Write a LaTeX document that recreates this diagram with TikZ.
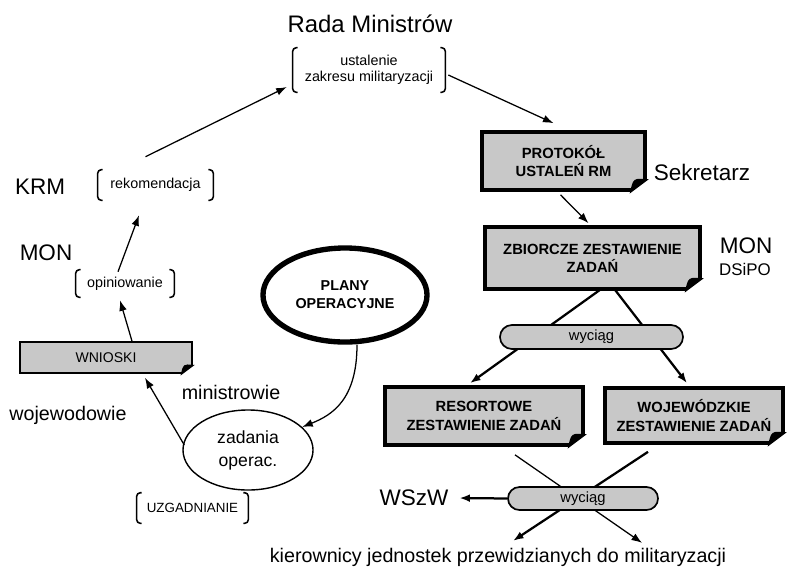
\documentclass[tikz,border=0pt]{standalone}
\usepackage{fontspec}
\setmainfont{Liberation Sans}
\usetikzlibrary{shapes.geometric,shapes.misc,arrows.meta,calc,backgrounds}
\definecolor{boxgray}{RGB}{200,200,200}
\tikzset{
  lbl/.style={font=\fontsize{16}{18}\selectfont},
  doc/.style={draw, line width=2.6pt, fill=boxgray, align=center, inner sep=0pt,
    font=\bfseries\fontsize{10.5}{13}\selectfont},
  brk/.style={align=center, inner sep=0pt, font=\fontsize{10.2}{11.4}\selectfont},
  pill/.style={rounded rectangle, draw, line width=1.2pt, fill=boxgray, inner sep=0pt,
    font=\fontsize{10.5}{12}\selectfont},
  arr/.style={-{Latex[length=7.5pt,width=5.5pt]}, line width=0.9pt},
  thickarr/.style={-{Latex[length=7.5pt,width=5.5pt]}, line width=1.6pt},
}
\begin{document}
\begin{tikzpicture}[x=0.025cm,y=-0.025cm]
\useasboundingbox (0,0) rectangle (788,568);

% gora
\node[lbl, font=\fontsize{17}{19}\selectfont] (rada) at (370,24) {Rada Ministrów};
\node[brk, minimum width=3.8cm, minimum height=1.1cm] (ustal) at (369,70) {ustalenie\\zakresu militaryzacji};

% prawa strona
\node[doc, minimum width=4.075cm, minimum height=1.45cm] (prot) at (563.5,161) {PROTOKÓŁ\\USTALEŃ RM};
\node[lbl] (sekr) at (702,172) {Sekretarz};
\node[doc, minimum width=5.375cm, minimum height=1.55cm] (zbior) at (592.5,258) {ZBIORCZE ZESTAWIENIE\\ZADAŃ};
\node[lbl] (mon2) at (746,246) {MON};
\node[font=\fontsize{12}{14}\selectfont] (dsipo) at (745,269) {DSiPO};
\node[pill, minimum width=4.575cm, minimum height=0.6cm] (wyc1) at (591.5,337) {wyciąg};
\node[doc, minimum width=4.95cm, minimum height=1.45cm] (resort) at (484,416) {RESORTOWE\\ZESTAWIENIE ZADAŃ};
\node[doc, minimum width=4.45cm, minimum height=1.375cm] (woj) at (694,415.5) {WOJEWÓDZKIE\\ZESTAWIENIE ZADAŃ};
\node[pill, minimum width=3.75cm, minimum height=0.575cm] (wyc2) at (583,498.5) {wyciąg};
\node[lbl] (wszw) at (414,498) {WSzW};
\node[font=\fontsize{14}{16}\selectfont] (kier) at (498,557) {kierownicy jednostek przewidzianych do militaryzacji};

% lewa strona
\node[lbl] (krm) at (40,187) {KRM};
\node[brk, minimum width=2.875cm, minimum height=0.75cm] (rekom) at (155.5,185) {rekomendacja};
\node[lbl] (mon1) at (46,253) {MON};
\node[brk, minimum width=2.45cm, minimum height=0.675cm] (opin) at (125,283.5) {opiniowanie};
\node[draw, line width=1.2pt, fill=boxgray, minimum width=4.3cm, minimum height=0.775cm,
  font=\fontsize{10}{12}\selectfont] (wnioski) at (106,357.5) {WNIOSKI};
\node[font=\fontsize{14}{16}\selectfont] (minis) at (231,392) {ministrowie};
\node[font=\fontsize{14}{16}\selectfont] (wojew) at (68,415) {wojewodowie};
\node[ellipse, draw, line width=1pt, minimum width=3.25cm, minimum height=2cm, align=center,
  font=\fontsize{12.5}{16.4}\selectfont] (zad) at (248,450) {zadania\\operac.};
\node[brk, font=\fontsize{9.5}{11}\selectfont, minimum width=2.775cm, minimum height=0.75cm] (uzg) at (192.5,508) {UZGADNIANIE};
\node[ellipse, draw, line width=3.8pt, minimum width=4.1cm, minimum height=2.35cm, align=center,
  font=\bfseries\fontsize{10.2}{12.8}\selectfont] (plany) at (345,295) {PLANY\\OPERACYJNE};

% nawiasy
\foreach \n in {ustal,rekom,opin,uzg}{
  \draw[line width=1.1pt, rounded corners=2.5pt] ([xshift=3.5pt]\n.north west) -- (\n.north west) -- (\n.south west) -- ([xshift=3.5pt]\n.south west);
  \draw[line width=1.1pt, rounded corners=2.5pt] ([xshift=-3.5pt]\n.north east) -- (\n.north east) -- (\n.south east) -- ([xshift=-3.5pt]\n.south east);
}

% zagiete rogi
\foreach \n/\s in {prot/1,zbior/1,resort/1,woj/1,wnioski/0.7}{
  \fill[white] ($(\n.south east)+(4*\s,4*\s)$) -- ($(\n.south east)+(-19.2*\s,2.4*\s)$) -- ($(\n.south east)+(3.2*\s,-14.4*\s)$) -- cycle;
  \filldraw[line width=1pt] ($(\n.south east)+(-16*\s,0)$) .. controls ($(\n.south east)+(-13*\s,-13*\s)$) .. ($(\n.south east)+(0,-12*\s)$) -- cycle;
}

% strzalki
\draw[arr] ($(rekom.north)+(-10,-13)$) -- ($(ustal.west)+(-6,17)$);
\draw[arr] ($(ustal.east)+(3,5)$) -- ($(prot.north)+(-10,-7)$);
\draw[arr] ($(prot.south)+(-3,3)$) -- ($(zbior.north)+(-4,-2)$);
\begin{pgfonlayer}{background}
\draw[thickarr] ($(zbior.south)+(7.5,-1)$) -- ($(resort.north)+(-14,-2)$);
\draw[thickarr] ($(zbior.south)+(22.5,-1)$) -- ($(woj.north)+(-7,-3)$);
\draw[arr] ($(resort.south)+(31,8)$) -- ($(kier.north)+(144,0)$);
\draw[thickarr] ($(woj.south)+(-46,7)$) -- ($(kier.north)+(15,-2)$);
\end{pgfonlayer}
\draw[thickarr] (wyc2.west) -- ($(wszw.east)+(6,0)$);
\draw[arr] ($(opin.north)+(-7,2)$) -- ($(rekom.south)+(-16.5,15)$);
\draw[arr] ($(wnioski.north)+(26,0)$) -- ($(opin.south)+(-5,3)$);
\draw[arr] ($(zad.west)+(2,-5)$) -- ($(wnioski.south)+(39,4)$);
\draw[arr] ($(plany.south)+(12,0)$) .. controls ($(plany.south)+(12,55)$) and ($(zad.23)+(30,-12)$) .. (zad.23);
\end{tikzpicture}
\end{document}
